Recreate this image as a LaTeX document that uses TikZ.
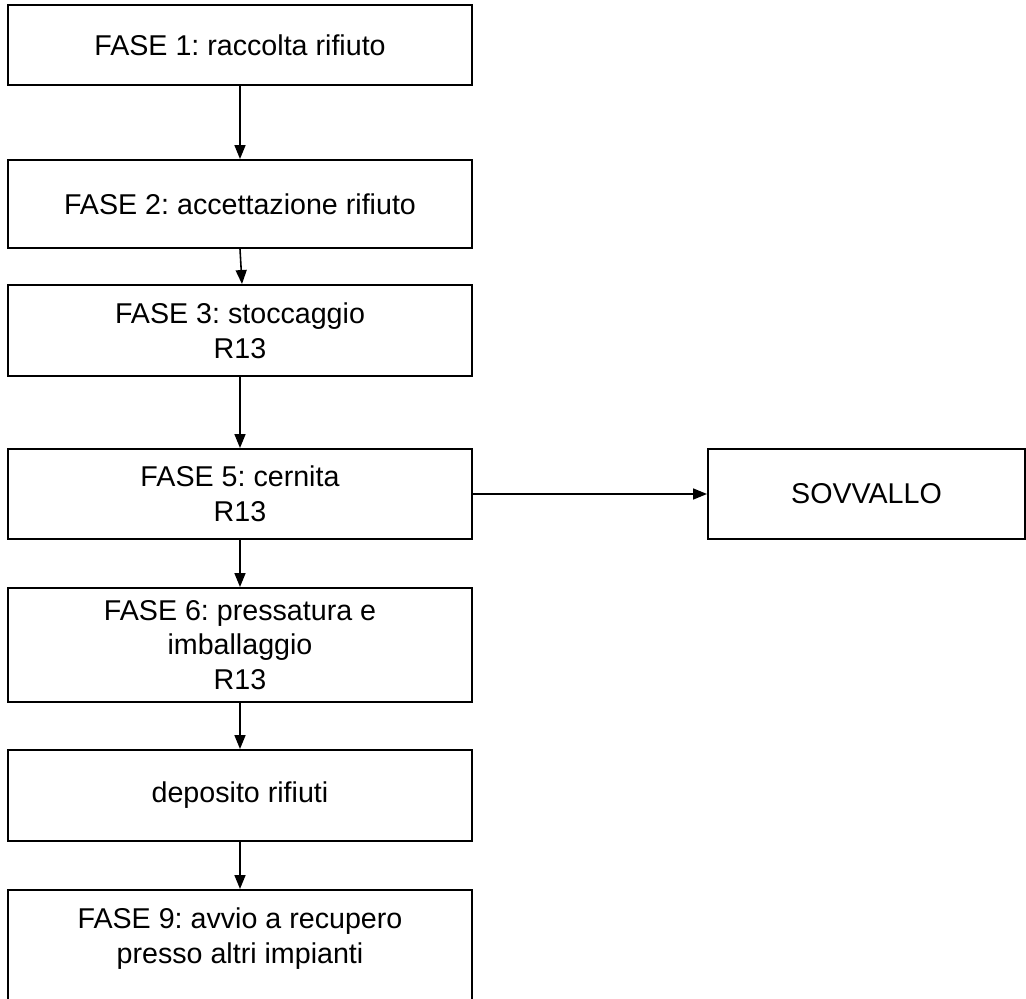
\documentclass[tikz,border=0pt]{standalone}
\usepackage{fontspec}
\setmainfont{Liberation Sans}
\usetikzlibrary{arrows.meta}
\frenchspacing
\tikzset{
  fase/.style={draw,line width=1.1pt,minimum width=9.28cm,align=center,inner sep=0pt,font=\fontsize{16.3}{19.8}\selectfont},
  pfeil/.style={line width=0.9pt,-{Triangle[length=0.28cm,width=0.22cm]}}
}
\begin{document}
\begin{tikzpicture}
			%\draw[help lines,dashed] (0,0) grid (20,-20); %Hilfsgitter
			\useasboundingbox (0,0) rectangle (20.52,-19.98);
			\clip (0,0) rectangle (20.52,-19.98);
			
			% Phasen, von oben nach unten
			\node[fase,minimum height=1.6cm]  (f1) at (4.8,-0.9)   {FASE 1: raccolta rifiuto};
			\node[fase,minimum height=1.76cm] (f2) at (4.8,-4.08)  {FASE 2: accettazione rifiuto};
			\node[fase,minimum height=1.82cm] (f3) at (4.8,-6.61)  {FASE 3: stoccaggio\\R13};
			\node[fase,minimum height=1.8cm]  (f5) at (4.8,-9.88)  {FASE 5: cernita\\R13};
			\node[fase,minimum height=2.28cm] (f6) at (4.8,-12.9)  {FASE 6: pressatura e\\imballaggio\\R13};
			\node[fase,minimum height=1.82cm] (dep) at (4.8,-15.91) {deposito rifiuti};
			\node[fase,anchor=north,inner ysep=0.36cm,text depth=1.4cm] (f9) at (4.8,-17.78) {FASE 9: avvio a recupero\\presso altri impianti};
			
			\node[fase,minimum width=6.34cm,minimum height=1.8cm] (sov) at (17.33,-9.88) {SOVVALLO}; % Seitenzweig
			
			% Pfeile
			\draw[pfeil] (f1) -- (f2);
			\draw[pfeil] (f2.south) -- ([xshift=0.04cm]f3.north);
			\draw[pfeil] (f3) -- (f5);
			\draw[pfeil] (f5) -- (sov);
			\draw[pfeil] (f5) -- (f6);
			\draw[pfeil] (f6) -- (dep);
			\draw[pfeil] (dep) -- (f9);
			
\end{tikzpicture}
\end{document}
